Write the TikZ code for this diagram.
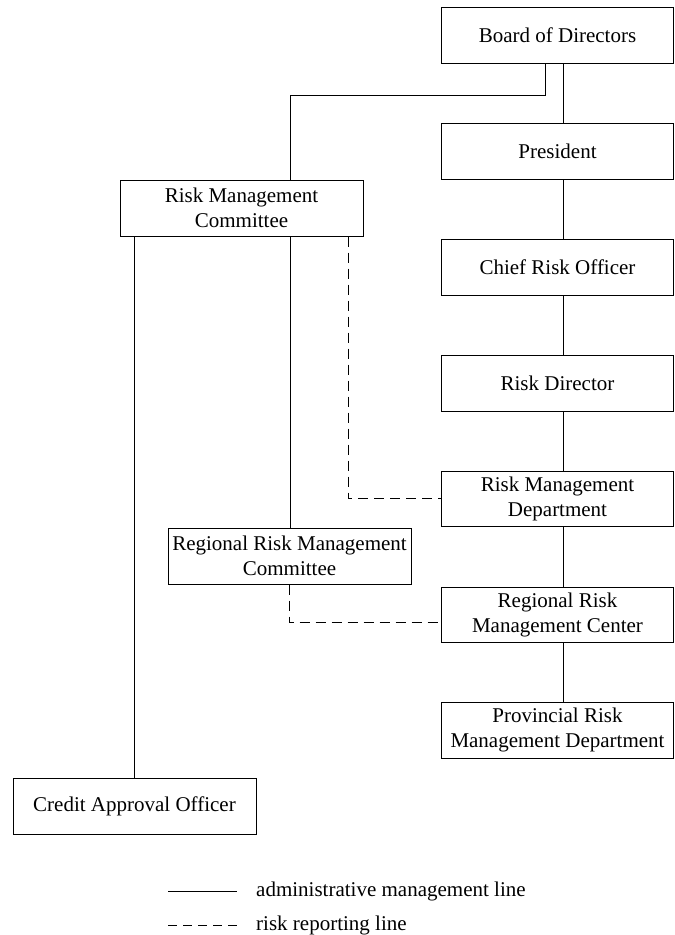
\documentclass[tikz,border=0pt]{standalone}
\usepackage{fontspec}
\setmainfont{Liberation Serif}
\begin{document}
\begin{tikzpicture}[x=1pt,y=-1pt,
  unit/.style={draw, line width=1pt, inner sep=0pt, align=center,
    font=\fontsize{21}{25}\selectfont},
  rcol/.style={unit, minimum width=231.5pt, minimum height=56pt},
  conn/.style={line width=1pt},
  rline/.style={line width=1pt, dash pattern=on 10pt off 6pt}]
\useasboundingbox (0,0) rectangle (675,935);

% main chain on the right
\node[rcol] (board)  at (557.5,35)  {Board of Directors};
\node[rcol] (pres)   at (557.5,151) {President};
\node[rcol] (cro)    at (557.5,267) {Chief Risk Officer};
\node[rcol] (rd)     at (557.5,383) {Risk Director};
\node[rcol, minimum height=55pt] (rmd) at (557.5,498.5) {Risk Management\\Department};
\node[rcol, minimum height=55pt] (rrmc) at (557.5,614.5) {Regional Risk\\Management Center};
\node[rcol] (prov)   at (557.5,730) {Provincial Risk\\Management Department};

% committees and officer on the left
\node[unit, minimum width=243pt, minimum height=56pt] (rmcom)  at (241.5,208) {Risk Management\\Committee};
\node[unit, minimum width=243pt, minimum height=56pt] (rrmcom) at (289.5,556) {Regional Risk Management\\Committee};
\node[unit, minimum width=243pt, minimum height=56pt] (cao)    at (134.5,806) {Credit Approval Officer};

% routing points
\coordinate (spine) at (563,0);
\coordinate (j1) at (545,95);
\coordinate (j2) at (290,95);
\coordinate (d1) at (348,0);
\coordinate (d2) at (289,622);

% administrative lines
\draw[conn] (board.south -| j1) -- (j1) -- (j2) -- (rmcom.north -| j2);
\draw[conn] (board.south -| spine) -- (pres.north -| spine);
\draw[conn] (pres.south -| spine) -- (cro.north -| spine);
\draw[conn] (cro.south -| spine) -- (rd.north -| spine);
\draw[conn] (rd.south -| spine) -- (rmd.north -| spine);
\draw[conn] (rmd.south -| spine) -- (rrmc.north -| spine);
\draw[conn] (rrmc.south -| spine) -- (prov.north -| spine);
\draw[conn] (rmcom.south -| j2) -- (rrmcom.north -| j2);
\draw[conn] (rmcom.south -| cao.north) -- (cao.north);

% risk reporting lines
\draw[rline] (rmcom.south -| d1) |- (rmd.west);
\draw[rline] (rrmcom.south -| d2) -- (d2) -- (rrmc.west |- d2);

% key
\coordinate (ka) at (168,891);
\coordinate (kb) at (237,891);
\coordinate (kc) at (168,925);
\coordinate (kd) at (237,925);
\draw[conn] (ka) -- (kb);
\draw[line width=1pt, dash pattern=on 9pt off 6pt] (kc) -- (kd);
\node[anchor=west, inner sep=0pt, font=\fontsize{21}{25}\selectfont] (ktxt1) at (256,891) {administrative management line};
\node[anchor=west, inner sep=0pt, font=\fontsize{21}{25}\selectfont] (ktxt2) at (256,925) {risk reporting line};
\end{tikzpicture}
\end{document}
